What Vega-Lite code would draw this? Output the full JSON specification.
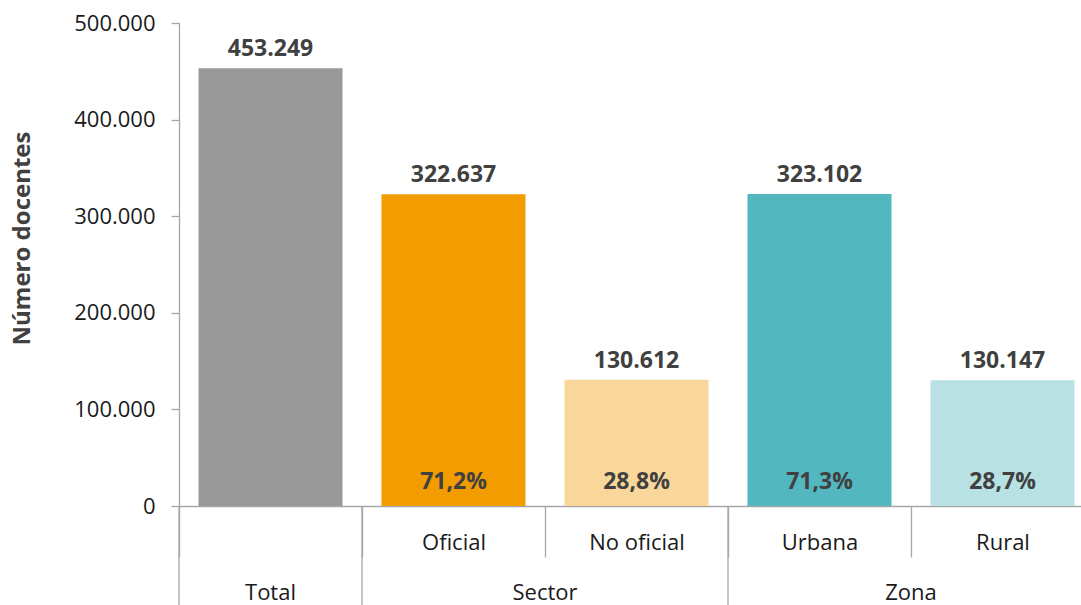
{
  "$schema": "https://vega.github.io/schema/vega-lite/v6.json",
  "autosize": {"type": "none"},
  "width": 902,
  "height": 483,
  "padding": {"left": 179, "top": 23, "right": 0, "bottom": 99},
  "background": "white",
  "config": {
    "locale": {"number": {"decimal": ",", "thousands": ".", "grouping": [3], "currency": ["", ""]}},
    "font": "Open Sans",
    "view": {"stroke": null}
  },
  "datasets": {
    "bars": [
      {"cat": "Total", "value": 453249, "pct": null},
      {"cat": "Oficial", "value": 322637, "pct": 0.712},
      {"cat": "No oficial", "value": 130612, "pct": 0.288},
      {"cat": "Urbana", "value": 323102, "pct": 0.713},
      {"cat": "Rural", "value": 130147, "pct": 0.287}
    ],
    "groups": [
      {"grp": "Total", "first": "Total", "last": "Total"},
      {"grp": "Sector", "first": "Oficial", "last": "No oficial"},
      {"grp": "Zona", "first": "Urbana", "last": "Rural"}
    ]
  },
  "layer": [
    {
      "data": {"name": "bars"},
      "mark": {"type": "bar", "width": {"band": 0.787}},
      "encoding": {
        "x": {
          "field": "cat", "type": "nominal", "sort": null,
          "scale": {"range": [0, 915], "paddingInner": 0, "paddingOuter": 0},
          "axis": {
            "title": null,
            "orient": "bottom",
            "domainColor": "#a6a6a6",
            "domainWidth": 1.3,
            "tickBand": "extent",
            "tickSize": 51,
            "tickColor": "#a6a6a6",
            "tickWidth": 1.3,
            "labelAngle": 0,
            "labelFontSize": 22,
            "labelColor": "#1a1a1a",
            "labelBaseline": "alphabetic",
            "labelPadding": -8,
            "labelExpr": "datum.value == 'Total' ? '' : datum.value"
          }
        },
        "y": {
          "field": "value", "type": "quantitative",
          "scale": {"domain": [0, 500000], "nice": false},
          "axis": {
            "values": [0, 100000, 200000, 300000, 400000, 500000],
            "format": ",.0f",
            "grid": false,
            "domainColor": "#a6a6a6",
            "domainWidth": 1.3,
            "tickColor": "#a6a6a6",
            "tickSize": 8,
            "tickWidth": 1.3,
            "labelFontSize": 22,
            "labelColor": "#1a1a1a",
            "labelPadding": 16,
            "title": "Número docentes",
            "titleFontSize": 24,
            "titleFontWeight": "bold",
            "titleColor": "#404040",
            "titleAngle": -90,
            "titleAlign": "center",
            "titleBaseline": "middle",
            "titleX": -157,
            "titleY": 215
          }
        },
        "color": {
          "field": "cat", "type": "nominal", "legend": null,
          "scale": {
            "domain": ["Total", "Oficial", "No oficial", "Urbana", "Rural"],
            "range": ["#999999", "#F29C00", "#F9D699", "#53B7C0", "#B8E1E4"]
          }
        }
      }
    },
    {
      "data": {"name": "bars"},
      "mark": {"type": "text", "baseline": "alphabetic", "dy": -12, "fontSize": 23, "fontWeight": "bold", "color": "#404040"},
      "encoding": {
        "x": {"field": "cat", "type": "nominal", "sort": null},
        "y": {"field": "value", "type": "quantitative"},
        "text": {"field": "value", "type": "quantitative", "format": ",.0f"}
      }
    },
    {
      "data": {"name": "bars"},
      "transform": [{"filter": "datum.pct != null"}],
      "mark": {"type": "text", "baseline": "alphabetic", "dy": -17, "fontSize": 23, "fontWeight": "bold", "color": "#404040"},
      "encoding": {
        "x": {"field": "cat", "type": "nominal", "sort": null},
        "y": {"datum": 0, "type": "quantitative"},
        "text": {"field": "pct", "type": "quantitative", "format": ".1%"}
      }
    },
    {
      "data": {"name": "groups"},
      "mark": {"type": "rule", "color": "#a6a6a6", "strokeWidth": 1.3, "y2Offset": 99},
      "encoding": {
        "x": {"field": "first", "type": "nominal", "sort": null, "bandPosition": 0},
        "y": {"datum": 0, "type": "quantitative"},
        "y2": {"datum": 0}
      }
    },
    {
      "data": {"name": "groups"},
      "transform": [{"filter": "datum.first == datum.last"}],
      "mark": {"type": "text", "baseline": "alphabetic", "dy": 94, "fontSize": 22, "color": "#1a1a1a"},
      "encoding": {
        "x": {"field": "first", "type": "nominal", "sort": null, "bandPosition": 0.5},
        "y": {"datum": 0, "type": "quantitative"},
        "text": {"field": "grp"}
      }
    },
    {
      "data": {"name": "groups"},
      "transform": [{"filter": "datum.first != datum.last"}],
      "mark": {"type": "text", "baseline": "alphabetic", "dy": 94, "fontSize": 22, "color": "#1a1a1a"},
      "encoding": {
        "x": {"field": "first", "type": "nominal", "sort": null, "bandPosition": 1},
        "y": {"datum": 0, "type": "quantitative"},
        "text": {"field": "grp"}
      }
    }
  ]
}
